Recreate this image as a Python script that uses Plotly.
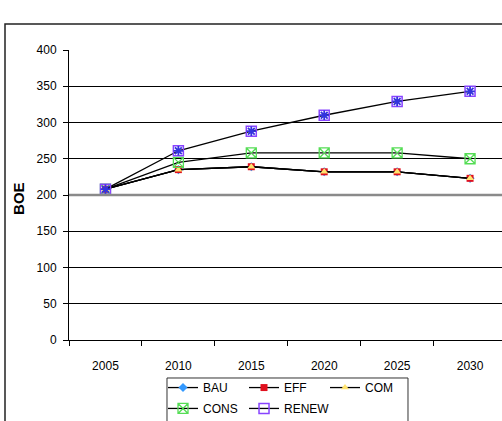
import plotly.graph_objects as go

years = ["2005", "2010", "2015", "2020", "2025", "2030"]
bau = [208, 235, 239, 232, 232, 223]
eff = [208, 235, 239, 232, 232, 223]
com = [208, 235, 239, 232, 232, 223]
cons = [208, 245, 258, 258, 258, 250]
renew = [208, 261, 288, 310, 329, 343]
y_ticks = [0, 50, 100, 150, 200, 250, 300, 350, 400]

FONT = "Liberation Sans, Arial, sans-serif"
LINE = dict(color="black", width=1.3)

fig = go.Figure()
fig.add_trace(go.Scatter(x=years, y=bau, name="BAU", mode="lines+markers", line=LINE,
                         legend="legend",
                         marker=dict(symbol="diamond", size=7, color="#3399FF")))
fig.add_trace(go.Scatter(x=years, y=eff, name="EFF", mode="lines+markers", line=LINE,
                         legend="legend",
                         marker=dict(symbol="square", size=7, color="#E0101E")))
fig.add_trace(go.Scatter(x=years, y=com, name="COM", mode="lines+markers", line=LINE,
                         legend="legend",
                         marker=dict(symbol="triangle-up", size=7, color="#FFE36E")))
fig.add_trace(go.Scatter(x=years, y=cons, name="CONS", mode="lines+markers", line=LINE,
                         legend="legend2",
                         marker=dict(symbol="square-x-open", size=10, color="#55DD55",
                                     line=dict(width=1.3))))
fig.add_trace(go.Scatter(x=years, y=renew, name="RENEW", mode="lines+markers", line=LINE,
                         legend="legend3",
                         marker=dict(symbol="square-open", size=10, color="#8844FF",
                                     line=dict(width=1.5))))
fig.add_trace(go.Scatter(x=years, y=renew, name="RENEW", mode="markers", showlegend=False,
                         marker=dict(symbol="asterisk-open", size=8, color="#3333DD",
                                     line=dict(width=1.8))))

leg_common = dict(orientation="h", xanchor="left", yanchor="top",
                  borderwidth=0, bgcolor="rgba(0,0,0,0)",
                  font=dict(family=FONT, size=12), tracegroupgap=0,
                  traceorder="normal", itemwidth=30)

fig.update_layout(
    width=502, height=421,
    margin=dict(l=69, r=0, t=50, b=81, autoexpand=False),
    paper_bgcolor="white", plot_bgcolor="white",
    font=dict(family=FONT, size=12, color="black"),
    showlegend=True,
    legend=dict(x=0.2171, y=-0.114, entrywidth=36, **leg_common),
    legend2=dict(x=0.2171, y=-0.186, **leg_common),
    legend3=dict(x=0.4042, y=-0.186, **leg_common),
    xaxis=dict(type="category", range=[-0.5, 5.438], tickson="boundaries",
               ticks="outside", ticklen=5, tickcolor="black", tickwidth=1,
               showline=True, linecolor="black", linewidth=1, showgrid=False,
               ticklabelstandoff=15, zeroline=False, automargin=False),
    yaxis=dict(range=[0, 400], tickvals=y_ticks, ticks="outside", ticklen=5,
               tickcolor="black", showline=True, linecolor="black", linewidth=1,
               showgrid=True, gridcolor="black", gridwidth=1, zeroline=False,
               ticklabelstandoff=4, automargin=False),
    annotations=[dict(text="<b>BOE</b>", x=-0.1155, y=0.49, xref="paper", yref="paper",
                      xanchor="center", yanchor="middle",
                      textangle=-90, showarrow=False,
                      font=dict(family=FONT, size=15))],
    shapes=[
        dict(type="line", xref="paper", yref="y", x0=0, x1=1, y0=200, y1=200,
             line=dict(color="#8a8a8a", width=2.5), layer="above"),
        dict(type="rect", xref="paper", yref="paper", x0=-0.1478, x1=1.05, y0=-0.5, y1=1.0897,
             line=dict(color="#222222", width=1.5)),
        dict(type="rect", xref="paper", yref="paper", x0=0.2263, x1=0.7829, y0=-0.5, y1=-0.131,
             line=dict(color="#333333", width=1)),
    ],
)
fig.write_html("out.html", config={"displayModeBar": False},
               post_script="document.body.style.margin='0';document.body.style.overflow='hidden';")
